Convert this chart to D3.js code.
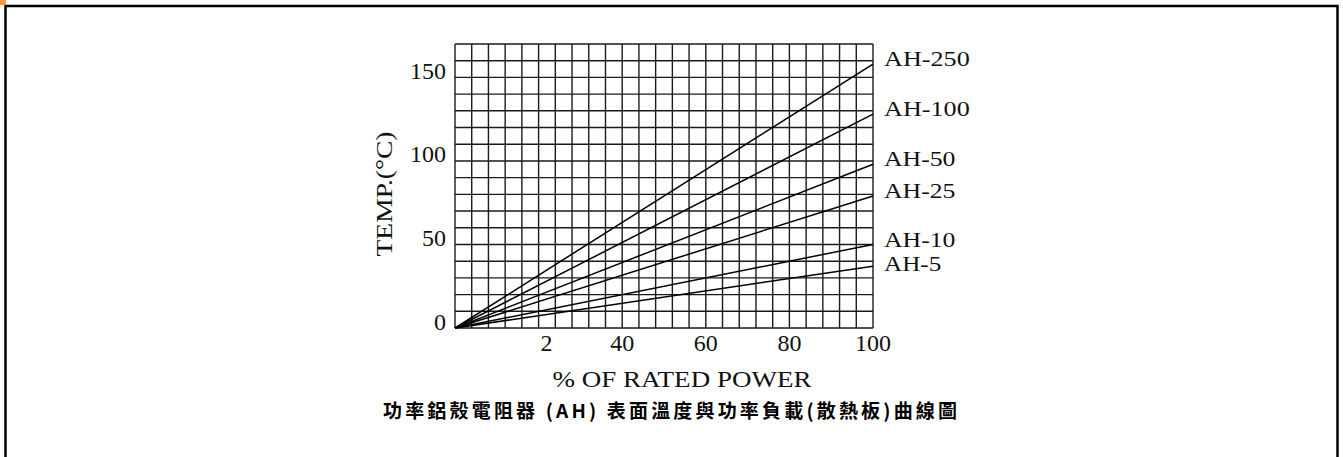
<!DOCTYPE html>
<html>
<head>
<meta charset="utf-8">
<script src="https://cdn.jsdelivr.net/npm/d3@7"></script>
<style>
  html, body { margin: 0; padding: 0; background: #fff; }
  svg { display: block; }
</style>
</head>
<body>
<div id="chart"></div>
<script>
// data
const seriesNames = ['AH-250', 'AH-100', 'AH-50', 'AH-25', 'AH-10', 'AH-5'];
const powerPoints = [0, 100];
const ah250 = [0, 158];
const ah100 = [0, 128];
const ah50 = [0, 98];
const ah25 = [0, 79];
const ah10 = [0, 50];
const ah5 = [0, 37];
const xTickValues = [20, 40, 60, 80, 100];
const xTickLabels = ['2', '40', '60', '80', '100'];
const yTickValues = [0, 50, 100, 150];
const xLabel = '% OF RATED POWER';
const yLabel = 'TEMP.(°C)';
const title = '功率鋁殼電阻器 (AH) 表面溫度與功率負載(散熱板)曲線圖';

const W = 1343, H = 457;
const plotLeft = 455, plotRight = 873, plotTop = 44, plotBottom = 328;
const serif = '"Liberation Serif", "DejaVu Serif", serif';

const svg = d3.select('#chart').append('svg')
  .attr('width', W)
  .attr('height', H);

// 外枠
svg.append('rect')
  .attr('x', 5.5).attr('y', 6)
  .attr('width', 1332).attr('height', 500)
  .attr('fill', 'none')
  .attr('stroke', '#000')
  .attr('stroke-width', 2.5);

svg.append('rect')
  .attr('x', 0).attr('y', 0)
  .attr('width', 6).attr('height', 5)
  .attr('fill', '#f39a45');

const xScale = d3.scaleLinear().domain([0, 100]).range([plotLeft, plotRight]);
const yScale = d3.scaleLinear().domain([0, 170]).range([plotBottom, plotTop]);

// grid
const grid = svg.append('g').attr('stroke', '#1a1a1a').attr('stroke-width', 1.4);
grid.selectAll('line.v')
  .data(d3.range(0, 101, 4))
  .join('line')
  .attr('class', 'v')
  .attr('x1', d => xScale(d)).attr('x2', d => xScale(d))
  .attr('y1', yScale(170)).attr('y2', yScale(0));
grid.selectAll('line.h')
  .data(d3.range(0, 171, 10))
  .join('line')
  .attr('class', 'h')
  .attr('x1', xScale(0)).attr('x2', xScale(100))
  .attr('y1', d => yScale(d)).attr('y2', d => yScale(d));

// series lines
const seriesValues = [ah250, ah100, ah50, ah25, ah10, ah5];
const line = d3.line()
  .x(d => xScale(d[0]))
  .y(d => yScale(d[1]));

const series = seriesValues.map((vals, i) => ({
  name: seriesNames[i],
  points: powerPoints.map((p, j) => [p, vals[j]])
}));

svg.append('g')
  .selectAll('path')
  .data(series)
  .join('path')
  .attr('d', d => line(d.points))
  .attr('fill', 'none')
  .attr('stroke', '#000')
  .attr('stroke-width', 1.5);

// series labels: placed at line ends, pushed down so they do not collide
let lastY = -Infinity;
const labelY = series.map(d => {
  let y = yScale(d.points[d.points.length - 1][1]) - 3;
  if (y < lastY + 24) y = lastY + 24;
  lastY = y;
  return y;
});

svg.append('g')
  .selectAll('text')
  .data(series)
  .join('text')
  .attr('x', xScale(100) + 11)
  .attr('y', (d, i) => labelY[i])
  .attr('dominant-baseline', 'middle')
  .attr('font-family', serif)
  .attr('font-size', 22)
  .attr('fill', '#111')
  .attr('textLength', d => d.name.length * 14.3)
  .attr('lengthAdjust', 'spacingAndGlyphs')
  .text(d => d.name);

// x axis labels
svg.append('g')
  .selectAll('text')
  .data(xTickValues)
  .join('text')
  .attr('x', (d, i) => xScale(d) + (xTickLabels[i].length === 1 ? 8 : 0))
  .attr('y', 345)
  .attr('text-anchor', 'middle')
  .attr('dominant-baseline', 'middle')
  .attr('font-family', serif)
  .attr('font-size', 24)
  .attr('fill', '#111')
  .text((d, i) => xTickLabels[i]);

// y axis labels
svg.append('g')
  .selectAll('text')
  .data(yTickValues)
  .join('text')
  .attr('x', 446)
  .attr('y', d => yScale(d) - 4)
  .attr('text-anchor', 'end')
  .attr('dominant-baseline', 'middle')
  .attr('font-family', serif)
  .attr('font-size', 24)
  .attr('fill', '#111')
  .text(d => d);

svg.append('text')
  .attr('x', 682)
  .attr('y', 381)
  .attr('text-anchor', 'middle')
  .attr('dominant-baseline', 'middle')
  .attr('font-family', serif)
  .attr('font-size', 24)
  .attr('fill', '#111')
  .attr('textLength', 259)
  .attr('lengthAdjust', 'spacingAndGlyphs')
  .text(xLabel);

svg.append('text')
  .attr('transform', 'translate(386,194) rotate(-90)')
  .attr('text-anchor', 'middle')
  .attr('dominant-baseline', 'middle')
  .attr('font-family', serif)
  .attr('font-size', 24)
  .attr('fill', '#111')
  .attr('textLength', 125)
  .attr('lengthAdjust', 'spacingAndGlyphs')
  .text(yLabel);

// title
svg.append('text')
  .attr('x', 670)
  .attr('y', 413)
  .attr('text-anchor', 'middle')
  .attr('dominant-baseline', 'middle')
  .attr('font-family', '"Noto Sans CJK TC", "Noto Sans CJK SC", sans-serif')
  .attr('font-weight', 'bold')
  .attr('font-size', 19)
  .attr('fill', '#000')
  .attr('textLength', 574)
  .attr('lengthAdjust', 'spacing')
  .text(title);
</script>
</body>
</html>
